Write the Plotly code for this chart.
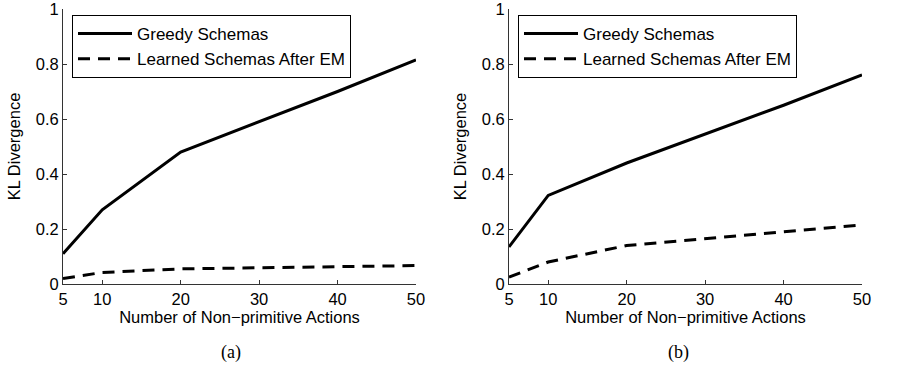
import plotly.graph_objects as go

x_vals = [5, 10, 20, 30, 40, 50]
greedy_a = [0.11, 0.27, 0.48, 0.59, 0.70, 0.815]
learned_a = [0.02, 0.042, 0.055, 0.059, 0.063, 0.067]
greedy_b = [0.135, 0.322, 0.44, 0.545, 0.65, 0.76]
learned_b = [0.025, 0.08, 0.14, 0.165, 0.19, 0.215]
x_ticks = [5, 10, 20, 30, 40, 50]
y_ticks = [0, 0.2, 0.4, 0.6, 0.8, 1]
y_tick_labels = ["0", "0.2", "0.4", "0.6", "0.8", "1"]
names = ["Greedy Schemas", "Learned Schemas After EM"]
captions = ["(a)", "(b)"]

W, H = 904, 371
OFF = 0  # body margin removed below, figure sits at the window's corner


def px_x(v):
    return (v - OFF) / W


def px_y(v):
    return (H - (v - OFF)) / H


fig = go.Figure()


def add_pair(g, l, xa, ya, leg):
    fig.add_trace(go.Scatter(x=x_vals, y=g, mode="lines", name=names[0],
                             line=dict(color="black", width=3),
                             xaxis=xa, yaxis=ya, legend=leg))
    fig.add_trace(go.Scatter(x=x_vals, y=l, mode="lines", name=names[1],
                             line=dict(color="black", width=3, dash="12px,8px"),
                             xaxis=xa, yaxis=ya, legend=leg))


add_pair(greedy_a, learned_a, "x", "y", "legend")
add_pair(greedy_b, learned_b, "x2", "y2", "legend2")

SANS = "'Liberation Sans', Arial, Helvetica, sans-serif"
SERIF = "'Liberation Serif', 'Times New Roman', serif"
font = dict(family=SANS, size=16.5, color="black")
y_dom = [px_y(284), px_y(9)]

xcommon = dict(range=[5, 50], tickvals=x_ticks, ticks="inside", ticklen=4,
               tickcolor="#333", showline=True, linecolor="#333", linewidth=1,
               showgrid=False, zeroline=False, tickfont=font, automargin=False,
               ticklabeloverflow="allow",
               title=dict(text="Number of Non−primitive Actions", font=font, standoff=2))
ycommon = dict(range=[0, 1], tickvals=y_ticks, ticktext=y_tick_labels, ticks="inside",
               ticklen=4, tickcolor="#333", showline=True, linecolor="#333", linewidth=1,
               showgrid=False, zeroline=False, tickfont=font, domain=y_dom, automargin=False,
               ticklabeloverflow="allow",
               title=dict(text="KL Divergence", font=font, standoff=10))

legcommon = dict(bordercolor="black", borderwidth=1, bgcolor="white",
                 font=dict(family=SANS, size=17, color="black"), xanchor="left", yanchor="top",
                 tracegroupgap=0, itemwidth=54)

cap_font = dict(family=SERIF, size=18, color="black")

fig.update_layout(
    width=W, height=H, margin=dict(l=0, r=0, t=0, b=0, autoexpand=False),
    paper_bgcolor="white", plot_bgcolor="white",
    xaxis=dict(xcommon, domain=[px_x(63), px_x(416)], anchor="y"),
    yaxis=dict(ycommon, anchor="x"),
    xaxis2=dict(xcommon, domain=[px_x(509), px_x(862)], anchor="y2"),
    yaxis2=dict(ycommon, anchor="x2"),
    legend=dict(legcommon, x=px_x(72), y=px_y(15)),
    legend2=dict(legcommon, x=px_x(518), y=px_y(15)),
    showlegend=True,
    annotations=[
        dict(text=captions[0], x=px_x(231), y=px_y(352), xref="paper", yref="paper",
             xanchor="center", yanchor="middle", showarrow=False, font=cap_font),
        dict(text=captions[1], x=px_x(678), y=px_y(352), xref="paper", yref="paper",
             xanchor="center", yanchor="middle", showarrow=False, font=cap_font),
    ],
)

fig.write_html(
    "out.html",
    config={"displayModeBar": False},
    post_script="document.body.style.margin='0px';document.body.style.overflow='hidden';",
)
